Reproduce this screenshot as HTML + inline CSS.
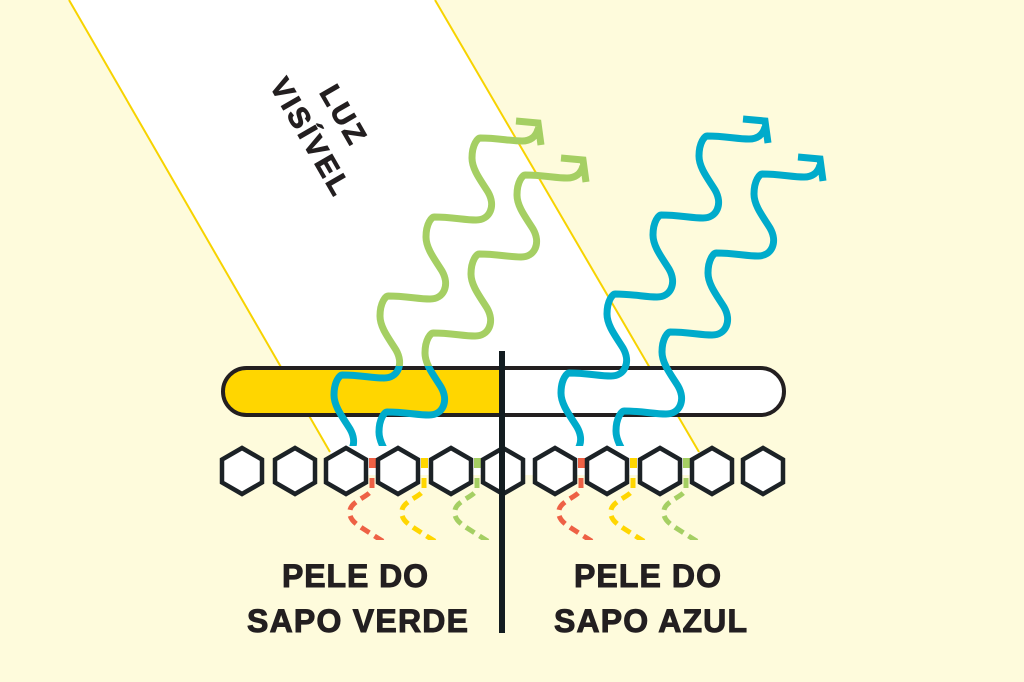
<!DOCTYPE html>
<html><head><meta charset="utf-8"><style>
html,body{margin:0;padding:0;background:#fefbdc;}
svg{display:block;}
</style></head><body>
<svg width="1024" height="682" viewBox="0 0 1024 682" xmlns="http://www.w3.org/2000/svg">
<defs>
<clipPath id="above"><rect x="0" y="0" width="1024" height="366"/></clipPath>
<clipPath id="below"><rect x="0" y="366" width="1024" height="80"/></clipPath>
<clipPath id="all"><rect x="0" y="0" width="1024" height="446"/></clipPath>
<clipPath id="dash"><rect x="0" y="440" width="1024" height="100"/></clipPath>
<path id="wave" d="M 296,454
c 18,0 30,3 42,3 c 14,0 20,-14 12,-28 c -6,-10 -16,-22 -16,-34 c 0,-14 6,-20 8,-20
c 18,0 30,3 42,3 c 14,0 20,-14 12,-28 c -6,-10 -16,-22 -16,-34 c 0,-14 6,-20 8,-20
c 18,0 30,3 42,3 c 14,0 20,-14 12,-28 c -6,-10 -16,-22 -16,-34 c 0,-14 6,-20 8,-20
c 18,0 30,3 42,3 c 14,0 20,-14 12,-28 c -6,-10 -16,-22 -16,-34 c 0,-14 6,-20 8,-20
c 18,0 30,3 42,3 c 8,0 14,-4 16,-12 M 516,121 L 538,123 L 541,145"/>
<path id="dsh" d="M 372,478 L 372,488 C 372,496 352,500 350,510 C 348,520 358,525 362,528 L 384,542"/>
</defs>
<rect width="1024" height="682" fill="#fefbdc"/>
<polygon points="69,0 435,0 699,452 712,475 343,475 330,452" fill="#ffffff"/>
<line x1="69" y1="0" x2="330" y2="452" stroke="#f7d300" stroke-width="2"/>
<line x1="435" y1="0" x2="699" y2="452" stroke="#f7d300" stroke-width="2"/>
<g font-family="Liberation Sans, sans-serif" font-weight="bold" font-size="29" letter-spacing="3" fill="#231f20" stroke="#231f20" stroke-width="1" text-anchor="middle">
<text transform="translate(343,116) rotate(60)" dominant-baseline="central">LUZ</text>
<text transform="translate(310,138) rotate(60)" dominant-baseline="central">VISÍVEL</text>
</g>
<rect x="223" y="368" width="561" height="47" rx="23.5" fill="#ffffff"/>
<path d="M 246.5,368 L 500,368 L 500,415 L 246.5,415 A 23.5,23.5 0 0 1 246.5,368 Z" fill="#ffd600"/>
<rect x="223" y="368" width="561" height="47" rx="23.5" fill="none" stroke="#231f20" stroke-width="4"/>
<g fill="none" stroke-width="7" stroke-linecap="butt" stroke-linejoin="miter">
<g clip-path="url(#above)" stroke="#a5cf63">
<use href="#wave"/>
<use href="#wave" transform="translate(45,37)"/>
</g>
<g clip-path="url(#below)" stroke="#00abcb">
<use href="#wave"/>
<use href="#wave" transform="translate(45,37)"/>
</g>
<g clip-path="url(#all)" stroke="#00abcb">
<use href="#wave" transform="translate(227,-2)"/>
<use href="#wave" transform="translate(282,36)"/>
</g>
</g>
<g>
<rect x="369" y="458" width="7" height="10" fill="#ee6145"/>
<rect x="421" y="458" width="7" height="10" fill="#ffd600"/>
<rect x="474" y="458" width="7" height="10" fill="#a5cf63"/>
<rect x="578" y="458" width="7" height="10" fill="#ee6145"/>
<rect x="630" y="458" width="7" height="10" fill="#ffd600"/>
<rect x="683" y="458" width="7" height="10" fill="#a5cf63"/>
</g>
<g fill="none" stroke-width="5" stroke-dasharray="10 6" clip-path="url(#dash)">
<use href="#dsh" stroke="#ee6145"/>
<use href="#dsh" stroke="#ffd600" transform="translate(52,0)"/>
<use href="#dsh" stroke="#a5cf63" transform="translate(105,0)"/>
<use href="#dsh" stroke="#ee6145" transform="translate(209,0)"/>
<use href="#dsh" stroke="#ffd600" transform="translate(261,0)"/>
<use href="#dsh" stroke="#a5cf63" transform="translate(314,0)"/>
</g>
<defs>
<polygon id="hex" points="0,-23 20,-11.5 20,11.5 0,23 -20,11.5 -20,-11.5" fill="#ffffff" stroke="#1c2226" stroke-width="4.5" stroke-linejoin="miter"/>
</defs>
<use href="#hex" transform="translate(242,471)"/>
<use href="#hex" transform="translate(295,471)"/>
<use href="#hex" transform="translate(346,471)"/>
<use href="#hex" transform="translate(398,471)"/>
<use href="#hex" transform="translate(451,471)"/>
<use href="#hex" transform="translate(503,471)"/>
<use href="#hex" transform="translate(555,471)"/>
<use href="#hex" transform="translate(607,471)"/>
<use href="#hex" transform="translate(660,471)"/>
<use href="#hex" transform="translate(712,471)"/>
<use href="#hex" transform="translate(763,471)"/>
<rect x="499" y="351" width="6" height="282" fill="#131c20"/>
<g font-family="Liberation Sans, sans-serif" font-weight="bold" font-size="32" fill="#231f20" stroke="#231f20" stroke-width="1">
<text x="282" y="587" textLength="146" lengthAdjust="spacing">PELE DO</text>
<text x="247" y="632" textLength="221" lengthAdjust="spacing">SAPO VERDE</text>
<text x="574" y="587" textLength="147" lengthAdjust="spacing">PELE DO</text>
<text x="554" y="632" textLength="193" lengthAdjust="spacing">SAPO AZUL</text>
</g>
</svg>
</body></html>
